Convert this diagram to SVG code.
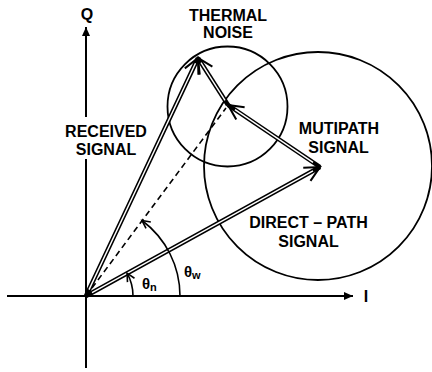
<svg xmlns="http://www.w3.org/2000/svg" width="432" height="372" viewBox="0 0 432 372">
<defs>
<style>
.t{font-family:"Liberation Sans",Arial,sans-serif;font-size:16px;font-weight:bold;fill:#000;text-anchor:middle}
.g{font-family:"Liberation Sans",Arial,sans-serif;font-size:15px;font-weight:bold;fill:#000}
.ax{stroke:#000;stroke-width:2;fill:none}
.c{stroke:#000;stroke-width:1.8;fill:none}
.vb{stroke:#000;stroke-width:4.5;fill:none}
.vw{stroke:#fff;stroke-width:1.4;fill:none}
.arc{stroke:#000;stroke-width:1.6;fill:none}
</style>
<marker id="fa" markerUnits="userSpaceOnUse" orient="auto" overflow="visible" markerWidth="1" markerHeight="1"><path d="M-9,-4 L0,0 L-9,4 Z" fill="#000"/></marker>
<marker id="va" markerUnits="userSpaceOnUse" orient="auto" overflow="visible" markerWidth="1" markerHeight="1"><path d="M-15,-7.5 L0,0 L-15,7.5" fill="none" stroke="#000" stroke-width="2"/></marker>
<marker id="sa" markerUnits="userSpaceOnUse" orient="auto" overflow="visible" markerWidth="1" markerHeight="1"><path d="M-8,-4 L0,0 L-8,4" fill="none" stroke="#000" stroke-width="1.6"/></marker>
</defs>
<rect width="432" height="372" fill="#fff"/>
<g id="axes">
<line class="ax" x1="7" y1="296" x2="353" y2="296" marker-end="url(#fa)"/>
<line class="ax" x1="86" y1="368" x2="86" y2="27" marker-end="url(#fa)"/>
<text class="t" x="87" y="20">Q</text>
<text class="t" x="366" y="302">I</text>
</g>
<g id="thermal-noise-circle">
<circle class="c" cx="227.5" cy="106.5" r="60"/>
<text class="t" x="228" y="21">THERMAL</text>
<text class="t" x="228" y="38">NOISE</text>
</g>
<g id="multipath-circle">
<circle class="c" cx="318" cy="166" r="114"/>
<text class="t" x="339" y="134">MUTIPATH</text>
<text class="t" x="338.5" y="153">SIGNAL</text>
</g>
<g id="direct-path-label">
<text class="t" x="308.5" y="228">DIRECT – PATH</text>
<text class="t" x="308.5" y="247">SIGNAL</text>
</g>
<g id="received-label">
<rect x="60" y="117" width="92" height="42" fill="#fff"/>
<text class="t" x="106" y="137">RECEIVED</text>
<text class="t" x="106" y="155">SIGNAL</text>
</g>
<g id="connectors">
<line x1="86" y1="296" x2="226" y2="108" stroke="#000" stroke-width="1.6" stroke-dasharray="6,4"/>
<line class="vb" x1="86" y1="296" x2="320" y2="167" marker-end="url(#va)"/>
<line class="vw" x1="92" y1="292.7" x2="313" y2="170.9"/>
<line class="vb" x1="320" y1="167" x2="228" y2="105" marker-end="url(#va)"/>
<line class="vw" x1="313" y1="162.3" x2="235" y2="109.7"/>
<line class="vb" x1="228" y1="105" x2="198" y2="58" marker-end="url(#va)"/>
<line class="vw" x1="225" y1="100.3" x2="201" y2="62.7"/>
<line class="vb" x1="86" y1="296" x2="198" y2="58" marker-end="url(#va)"/>
<line class="vw" x1="89" y1="289.6" x2="195.5" y2="63.3"/>
<path class="arc" d="M133,296 A47,47 0 0 0 127.1,273.2" marker-end="url(#sa)"/>
<path class="arc" d="M180,296 A94,94 0 0 0 142,220.5" marker-end="url(#sa)"/>
</g>
<g id="angle-labels">
<text class="g" x="142" y="289">θ<tspan font-size="11" dy="2">n</tspan></text>
<text class="g" x="184" y="277">θ<tspan font-size="11" dy="2">w</tspan></text>
</g>
</svg>
